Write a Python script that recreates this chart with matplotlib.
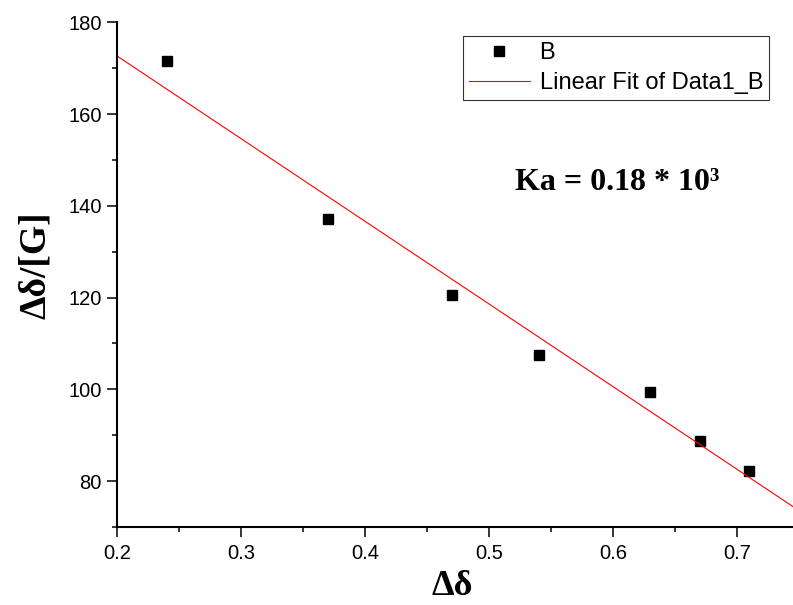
import matplotlib
matplotlib.use("Agg")
import matplotlib.pyplot as plt
import numpy as np
from matplotlib.ticker import MultipleLocator

# data
delta = [0.24, 0.37, 0.47, 0.54, 0.63, 0.67, 0.71]
ratio = [171.5, 137.1, 120.5, 107.4, 99.4, 88.8, 82.2]

x_ticks = [0.2, 0.3, 0.4, 0.5, 0.6, 0.7]
y_ticks = [80, 100, 120, 140, 160, 180]

slope, intercept = np.polyfit(delta, ratio, 1)
fit_x = np.array([0.2, 0.75])
fit_y = slope * fit_x + intercept

plt.rcParams['font.family'] = ['Liberation Sans', 'DejaVu Sans']

fig = plt.figure(figsize=(7.93, 6.05), dpi=100)
ax = fig.add_axes([117 / 793, 1 - 527 / 605, 682 / 793, (527 - 22.3) / 605])

ax.plot(delta, ratio, 's', color='black', markersize=7, label='B')
ax.plot(fit_x, fit_y, color='red', linewidth=0.8, label='Linear Fit of Data1_B')

ax.set_xlim(0.2, 0.75)
ax.set_ylim(70, 180)
ax.set_xticks(x_ticks)
ax.set_yticks(y_ticks)
ax.xaxis.set_minor_locator(MultipleLocator(0.05))
ax.yaxis.set_minor_locator(MultipleLocator(10))

for s in ['top', 'right']:
    ax.spines[s].set_visible(False)
for s in ['left', 'bottom']:
    ax.spines[s].set_linewidth(1.5)

ax.tick_params(which='major', direction='out', length=7, width=1.1, labelsize=14.5, pad=4)
ax.tick_params(which='minor', direction='out', length=3.6, width=1.1)
ax.tick_params(axis='x', which='major', pad=5)

serif = ['Liberation Serif', 'DejaVu Serif']
ax.set_xlabel('Δδ', fontsize=26, family=serif, fontweight='bold')
ax.set_ylabel('Δδ/[G]', fontsize=27, family=serif, fontweight='bold')
ax.xaxis.set_label_coords(0.491, -0.118)
ax.xaxis.label.set_va('center')
ax.yaxis.set_label_coords(-0.120, 0.519)
ax.yaxis.label.set_va('center')

ax.text(0.733, 0.667, 'Ka = 0.18 * 10³', transform=ax.transAxes, ha='center',
        va='baseline', fontsize=23, family=serif, fontweight='bold')

leg = ax.legend(loc='upper right', bbox_to_anchor=(769 / 793, 1 - 36 / 605),
                bbox_transform=fig.transFigure, borderaxespad=0, fontsize=17,
                frameon=True, fancybox=False, shadow=False, handlelength=2.6,
                handletextpad=0.4, labelspacing=0.35, borderpad=0.25)
leg.get_frame().set_edgecolor('black')
leg.get_frame().set_linewidth(0.8)

fig.savefig('out.png', dpi=100)
